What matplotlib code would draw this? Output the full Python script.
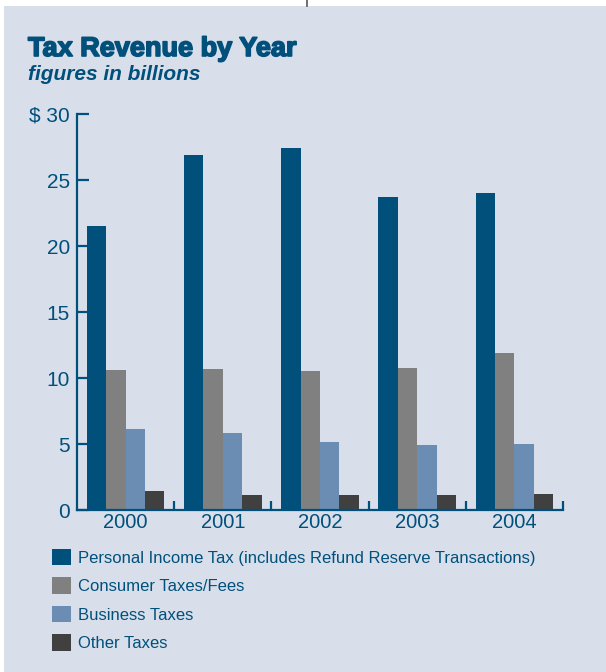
import matplotlib
matplotlib.use("Agg")
import numpy as np
import matplotlib.pyplot as plt
import matplotlib.patheffects as pe
from matplotlib.patches import Rectangle
from matplotlib.lines import Line2D

# revenue by year, billions of dollars
years = ["2000", "2001", "2002", "2003", "2004"]
personal_income = [21.5, 26.9, 27.4, 23.7, 24.0]
consumer = [10.6, 10.7, 10.5, 10.75, 11.9]
business = [6.15, 5.8, 5.15, 4.9, 5.0]
other = [1.45, 1.1, 1.1, 1.1, 1.2]

series_labels = [
    "Personal Income Tax (includes Refund Reserve Transactions)",
    "Consumer Taxes/Fees",
    "Business Taxes",
    "Other Taxes",
]
series_colors = ["#00507b", "#808080", "#6b8db4", "#404040"]
y_ticks = [0, 5, 10, 15, 20, 25, 30]
y_tick_labels = ["0", "5", "10", "15", "20", "25", "$ 30"]

navy = "#00507b"
panel = "#d8dfeb"

W, H = 606, 672
fig = plt.figure(figsize=(W / 100, H / 100), dpi=100, facecolor="white")

# light panel behind everything
fig.patches.append(Rectangle((4 / W, 0), 1, (H - 6) / H, transform=fig.transFigure,
                             facecolor=panel, edgecolor="none", zorder=-10))
fig.lines.append(Line2D([307 / W, 307 / W], [1, (H - 6) / H], transform=fig.transFigure,
                        color="#555555", linewidth=1.2, zorder=-5))

ax = fig.add_axes([77 / W, 1 - 510 / H, (563 - 77) / W, (510 - 114) / H])
ax.set_facecolor("none")

x = np.arange(len(years))
width = 0.2
bars = []
for i, (vals, color, label) in enumerate(zip([personal_income, consumer, business, other],
                                              series_colors, series_labels)):
    b = ax.bar(x + (i - 1.5) * width, vals, width, color=color, label=label, zorder=2)
    bars.append(b)

ax.set_xlim(-0.5, len(years) - 0.5)
ax.set_ylim(0, 30)

for side in ["top", "right"]:
    ax.spines[side].set_visible(False)
for side in ["left", "bottom"]:
    ax.spines[side].set_color(navy)
    ax.spines[side].set_linewidth(1.6)
    ax.spines[side].set_zorder(3)

ax.set_yticks(y_ticks)
ax.set_yticklabels(y_tick_labels)
ax.tick_params(axis="y", direction="in", length=8.5, width=1.6, color=navy,
               labelcolor=navy, labelsize=15, pad=5)

ax.set_xticks(x)
ax.set_xticklabels(years)
ax.tick_params(axis="x", which="major", length=0, labelcolor=navy, labelsize=14.5, pad=2.5)
ax.set_xticks(np.arange(len(years)) + 0.5, minor=True)
ax.tick_params(axis="x", which="minor", direction="in", length=6.5, width=1.6, color=navy)

for lbl in ax.get_xticklabels() + ax.get_yticklabels():
    lbl.set_family("Liberation Sans")

heavy = [pe.withStroke(linewidth=1.2, foreground=navy)]
fig.text(28 / W, 1 - 56 / H, "Tax Revenue by Year", fontsize=19.5, fontweight="bold",
         family="Liberation Sans", color=navy, va="baseline", path_effects=heavy)
fig.text(28 / W, 1 - 80 / H, "figures in billions", fontsize=15, fontweight="bold",
         style="italic", family="Liberation Sans", color=navy, va="baseline")

leg = fig.legend(handles=bars, labels=series_labels, loc="upper left",
                 bbox_to_anchor=(45 / W, 1 - 542 / H), frameon=False,
                 handlelength=1.15, handleheight=1.15, handletextpad=0.45,
                 labelspacing=0.7, borderaxespad=0,
                 prop={"family": "Liberation Sans", "size": 12})
for t in leg.get_texts():
    t.set_color(navy)

fig.savefig("out.png", dpi=100, facecolor="white")
